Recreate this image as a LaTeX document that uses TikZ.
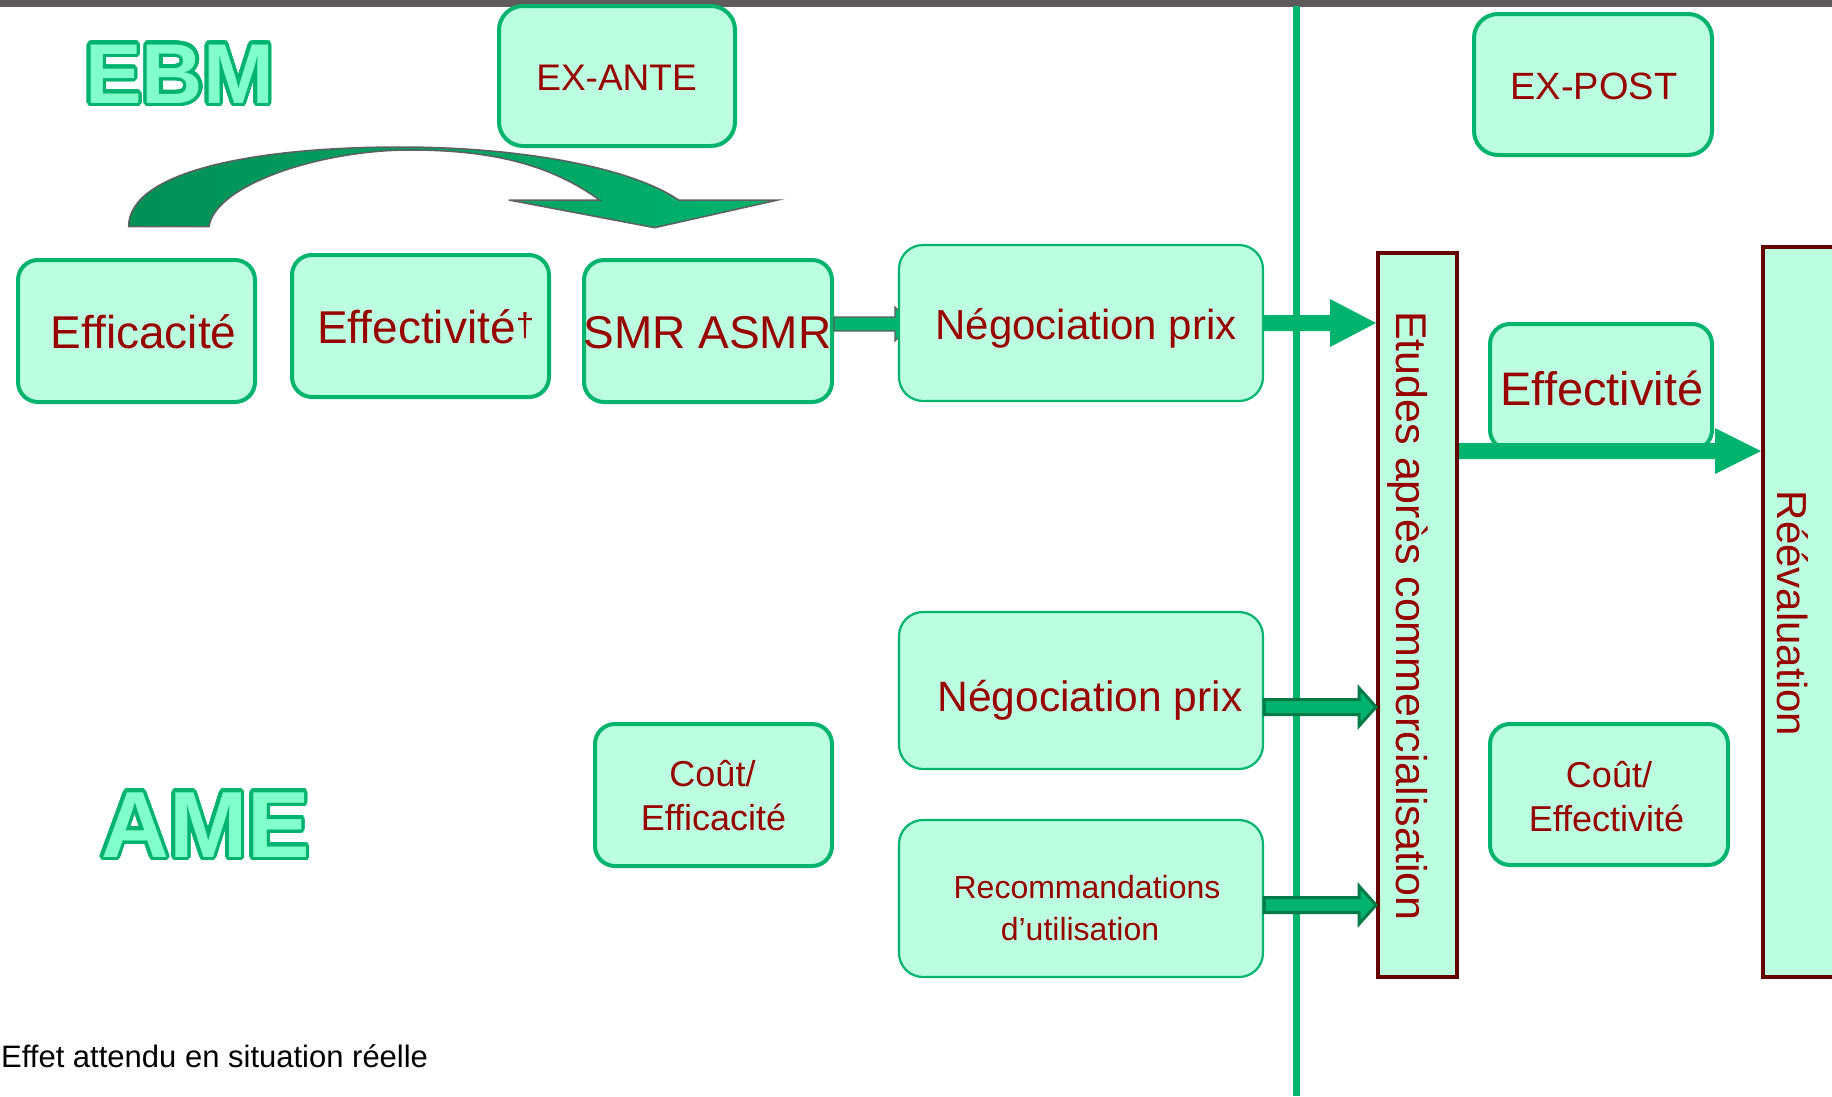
\documentclass[tikz,border=0pt]{standalone}
\usepackage{fontspec}
\setmainfont{Liberation Sans}
\usetikzlibrary{calc}

\definecolor{mint}{HTML}{BBFFE0}
\definecolor{boxgreen}{HTML}{00B46E}
\definecolor{txtred}{HTML}{990000}
\definecolor{maroon}{HTML}{660000}
\definecolor{arrowgreen}{HTML}{00B36E}
\definecolor{darkgreen}{HTML}{007A48}
\definecolor{curvedark}{HTML}{009058}
\definecolor{logofill}{HTML}{80FFCA}
\definecolor{bargray}{HTML}{5F5B5B}
\definecolor{edgegray}{HTML}{606060}

% font size given in picture units (1 unit = 1pt)
\newcommand\setpx[1]{\fontsize{#1}{#1}\selectfont}

% text with a coloured ring round each letter
\newcommand\ringtext[4]{%
  \foreach \ang in {0,15,...,345}{%
    \pgfmathsetlengthmacro\rdx{#1*cos(\ang)}%
    \pgfmathsetlengthmacro\rdy{#1*sin(\ang)}%
    \rlap{\hspace*{\rdx}\raisebox{\rdy}{\textcolor{#2}{#4}}}}%
  \textcolor{#3}{#4}}

% rectangle node from its outer corners: style, name, x1, y1, x2, y2
\newcommand\boxpanel[6]{%
  \pgfmathsetmacro\pw{#5-#3-4}\pgfmathsetmacro\ph{#6-#4-4}%
  \node[#1, minimum width=\pw pt, minimum height=\ph pt] (#2)
    at ({(#3+#5)/2},{(#4+#6)/2}) {};}

% horizontal block arrow: style, from, to, shaft half, head half, head length
\newcommand\blockarrow[6]{%
  \path[#1] let \p1=(#2), \p2=(#3) in
    (\x1,\y1+#4pt) -- (\x2-#6pt,\y1+#4pt) -- (\x2-#6pt,\y1+#5pt) -- (\x2,\y1)
    -- (\x2-#6pt,\y1-#5pt) -- (\x2-#6pt,\y1-#4pt) -- (\x1,\y1-#4pt) -- cycle;}

\tikzset{
  box/.style={draw=boxgreen, fill=mint, line width=4pt, rounded corners=20pt, inner sep=0pt},
  headbox/.style={box, rounded corners=24pt},
  thinbox/.style={box, line width=2.2pt, rounded corners=24pt},
  studybox/.style={draw=maroon, fill=mint, line width=4pt, inner sep=0pt},
  lbl/.style={text=txtred, inner sep=0pt, anchor=base},
  flatarrow/.style={fill=arrowgreen},
  rimarrow/.style={fill=arrowgreen, draw=darkgreen, line width=3pt},
  greyarrow/.style={fill=arrowgreen, draw=edgegray, line width=1.2pt},
  logo/.style={inner sep=0pt, anchor=base west, font=\bfseries},
}

\begin{document}
\begin{tikzpicture}[x=1pt, y=-1pt]
\useasboundingbox (0,0) rectangle (1832,1096);
\clip (0,0) rectangle (1832,1096);

% grey band along the top edge
\fill[bargray] (0,0) rectangle (1832,6.5);

% curved arrow over the first row
\draw[left color=curvedark, right color=arrowgreen, draw=edgegray, line width=1.5pt]
  (128.6,226.7) .. controls (128.6,170) and (260,147) .. (400,147)
  .. controls (520,147) and (630,167) .. (678.6,200)
  -- (778,200) -- (654.6,227.7) -- (508.7,200) -- (599.5,200)
  .. controls (555,168) and (500,150) .. (410,150)
  .. controls (320,150) and (215,185) .. (209,226.7) -- cycle;

% headings
\boxpanel{headbox}{exante}{497}{4}{737}{148}
\boxpanel{headbox}{expost}{1472}{12}{1714}{157}
\node[lbl, font=\setpx{37}] (exante-t) at (616.5,90) {EX-ANTE};
\node[lbl, font=\setpx{38}] (expost-t) at (1594,99) {EX-POST};

% divider between the two periods
\coordinate (vtop) at (1296,6);
\coordinate (vbot) at (1296,1096);
\draw[boxgreen, line width=7pt] (vtop) -- (vbot);

% first row
\boxpanel{box}{eff1}{16}{258}{257}{404}
\boxpanel{box}{effd}{290}{253}{551}{399}
\boxpanel{box}{smr}{582}{258}{834}{404}
\blockarrow{greyarrow}{$(smr.east)+(0,-7)$}{$(smr.east)+(78,-7)$}{7}{17}{17}
\boxpanel{thinbox}{neg1}{897}{243}{1265}{403}

% lower rows
\boxpanel{thinbox}{neg2}{897}{610}{1265}{771}
\boxpanel{thinbox}{reco}{897}{818}{1265}{979}
\boxpanel{box}{cout1}{593}{722}{834}{868}

% after marketing
\boxpanel{box}{effr}{1488}{322}{1714}{452}
\boxpanel{box}{cout2}{1488}{722}{1730}{867}
\boxpanel{studybox}{etudes}{1376}{251}{1459}{979}
\boxpanel{studybox}{reev}{1761}{245}{1870}{979}

% connectors
\blockarrow{flatarrow}{neg1.east}{etudes.west}{8}{24}{46}
\blockarrow{flatarrow}{$(etudes.east)+(0,-164)$}{reev.west}{8}{23}{46}
\blockarrow{rimarrow}{$(neg2.east)+(0,16.5)$}{etudes.west}{7.5}{19}{17}
\blockarrow{rimarrow}{$(reco.east)+(0,6.5)$}{etudes.west}{7.5}{19}{17}

% labels
\node[lbl, font=\setpx{46}] (eff1-t) at (143.5,348) {Efficacité};
\node[lbl, anchor=base west, font=\setpx{46}] (effd-t) at (317,343)
  {Effectivité\raisebox{7pt}{\setpx{33}†}};
\node[lbl, font=\setpx{46}] (smr-t) at (707.5,348) {SMR ASMR};
\node[lbl, font=\setpx{42}] (neg1-t) at (1086,339) {Négociation prix};
\node[lbl, font=\setpx{42.5}] (neg2-t) at (1090,711) {Négociation prix};
\node[lbl, font=\setpx{32}] (reco-t1) at (1087,898) {Recommandations};
\node[lbl, font=\setpx{32}] (reco-t2) at (1080,940) {d’utilisation};
\node[lbl, font=\setpx{36}] (cout1-t1) at (712.5,786) {Coût/};
\node[lbl, font=\setpx{36}] (cout1-t2) at (713.5,830) {Efficacité};
\node[lbl, font=\setpx{47}] (effr-t) at (1602,405) {Effectivité};
\node[lbl, font=\setpx{36}] (cout2-t1) at (1609,787) {Coût/};
\node[lbl, font=\setpx{36}] (cout2-t2) at (1606.5,831) {Effectivité};
\node[lbl, rotate=-90, font=\setpx{43}] (etudes-t) at (1396,616) {Etudes après commercialisation};
\node[lbl, rotate=-90, font=\setpx{42}] (reev-t) at (1777,613.5) {Réévaluation};

% approach names
\node[logo, font=\bfseries\setpx{85}] (ebm) at (85,103) {\ringtext{3.5pt}{arrowgreen}{logofill}{EBM}};
\node[logo, font=\bfseries\setpx{94}] (ame) at (101,857) {\ringtext{3.5pt}{arrowgreen}{logofill}{AME}};

% footnote
\node[inner sep=0pt, anchor=base west, font=\setpx{31}] (note) at (1,1067) {Effet attendu en situation réelle};
\end{tikzpicture}
\end{document}
